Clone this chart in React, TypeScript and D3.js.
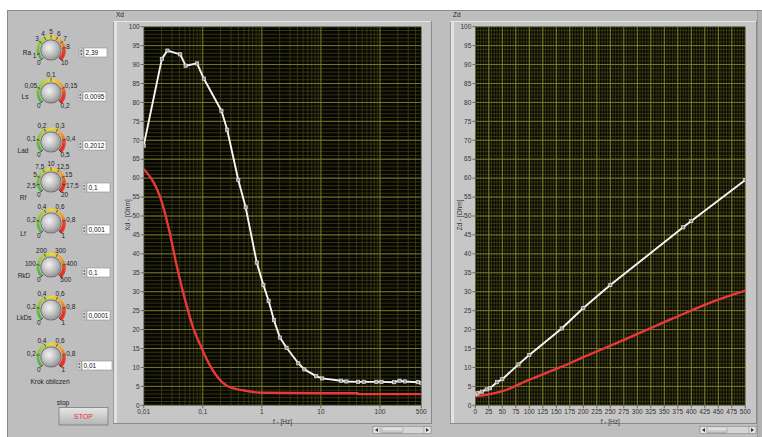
import React from 'react';
import * as d3 from 'd3';

// ---------- data ----------
const xdWhiteFreq = [0.01, 0.0203, 0.0252, 0.0415, 0.0512, 0.08, 0.104, 0.207, 0.259, 0.399, 0.532, 0.82, 1.06, 1.3, 1.6, 2.02, 2.62, 4.14, 5.24, 8.3, 10.5, 22, 26.9, 42.5, 53, 87, 106, 174, 214, 265, 437, 500];
const xdWhiteVal = [68.6, 91.5, 93.7, 92.7, 89.7, 90.3, 86.3, 77.8, 72.8, 59.5, 52.3, 37.7, 31.8, 27.6, 22.5, 17.9, 15.2, 11.1, 9.5, 7.7, 7.1, 6.5, 6.3, 6.2, 6.2, 6.2, 6.2, 6.1, 6.5, 6.3, 6.1, 5.9];
const xdRedFreq = [0.01, 0.0207, 0.0273, 0.0365, 0.054, 0.07, 0.091, 0.118, 0.175, 0.26, 0.5, 1.05, 10, 42, 42.5, 500];
const xdRedVal = [62.4, 53.2, 45.9, 36.6, 26.0, 20.1, 15.9, 12.0, 7.6, 5.1, 3.9, 3.3, 3.2, 3.2, 2.95, 2.95];

const zdWhiteFreq = [0, 4, 12, 21, 27, 40, 50, 80, 100, 160, 200, 250, 385, 400, 500];
const zdWhiteVal = [2.9, 3.2, 3.6, 4.2, 4.5, 6.1, 6.9, 10.8, 13.3, 20.3, 25.7, 31.8, 47.0, 48.7, 59.5];
const zdRedFreq = [0, 21, 52, 99, 160, 200, 256, 367, 440, 500];
const zdRedVal = [2.45, 2.8, 3.8, 6.7, 10.2, 12.7, 16.1, 23.0, 27.4, 30.3];

const yTickValues = [0, 5, 10, 15, 20, 25, 30, 35, 40, 45, 50, 55, 60, 65, 70, 75, 80, 85, 90, 95, 100];
const xdTickValues = [0.01, 0.1, 1, 10, 100, 500];
const xdTickLabels = ['0,01', '0,1', '1', '10', '100', '500'];
const zdTickValues = [0, 25, 50, 75, 100, 125, 150, 175, 200, 225, 250, 275, 300, 325, 350, 375, 400, 425, 450, 475, 500];

const knobNames = ['Ra', 'Ls', 'Lad', 'Rf', 'Lf', 'RkD', 'LkDs', 'Krok obliczeń'];
const knobMaxima = [10, 0.2, 0.5, 20, 1, 500, 1, 1];
const knobTickValues = [
  [0, 1, 3, 4, 5, 6, 7, 8, 10],
  [0, 0.05, 0.1, 0.15, 0.2],
  [0, 0.1, 0.2, 0.3, 0.4, 0.5],
  [0, 2.5, 5, 7.5, 10, 12.5, 15, 17.5, 20],
  [0, 0.2, 0.4, 0.6, 0.8, 1],
  [0, 100, 200, 300, 400, 500],
  [0, 0.2, 0.4, 0.6, 0.8, 1],
  [0, 0.2, 0.4, 0.6, 0.8, 1],
];
const knobReadouts = ['2,39', '0,0095', '0,2012', '0,1', '0,001', '0,1', '0,0001', '0,01'];

// ---------- layout ----------
const FONT = "'Liberation Sans', Arial, Helvetica, sans-serif";
const PLOT_TOP = 26.7;
const PLOT_BOTTOM = 405.3;
const BG = '#bebebe';
const PANEL = '#c6c6c6';

const knobCenters = [[51, 50], [51, 93], [51, 142], [51, 182], [51, 223], [51, 267], [51, 310], [51, 357]];
const knobNamePos = [[27, 55], [25, 99], [23, 153], [23, 200], [23, 236], [24, 278], [24, 320], [50, 384]];
const knobBoxes = [[84, 48, 23], [83, 92, 23], [83, 141, 23], [87, 183, 23], [87, 225, 23], [87, 268, 23], [87, 311, 23], [82, 361, 30]];

const arcColor = d3.scaleLinear<string>()
  .domain([0, 0.3, 0.5, 0.7, 0.85, 1])
  .range(['#3fae3f', '#9ccc34', '#f0dc28', '#f09a24', '#e83a22', '#e02020']);

function fmt(v: number) {
  return String(v).replace('.', ',');
}

function textWidth(s: string) {
  let w = 0;
  for (const ch of s) w += ch === ',' ? 1.8 : 3.6;
  return w;
}

function Knob({ i }: { i: number }) {
  const [cx, cy] = knobCenters[i];
  const max = knobMaxima[i];
  const ang = d3.scaleLinear().domain([0, max]).range([-135, 135]);
  const rArc = 13;
  const segs = d3.range(0, 60).map((k) => {
    const t0 = k / 60, t1 = (k + 1.2) / 60;
    const a0 = ((-135 + 270 * t0) * Math.PI) / 180;
    const a1 = ((-135 + 270 * Math.min(1, t1)) * Math.PI) / 180;
    const w = 2.8 + (t0 > 0.7 ? ((t0 - 0.7) / 0.3) * 1.6 : 0);
    const p = `M${cx + rArc * Math.sin(a0)},${cy - rArc * Math.cos(a0)} A${rArc},${rArc} 0 0 1 ${cx + rArc * Math.sin(a1)},${cy - rArc * Math.cos(a1)}`;
    return <path key={k} d={p} stroke={arcColor(t0)} strokeWidth={w} fill="none" />;
  });
  const [bx, by, bw] = knobBoxes[i];
  const [nx, ny] = knobNamePos[i];
  return (
    <g>
      {segs}
      {knobTickValues[i].map((v) => {
        const a = (ang(v) * Math.PI) / 180;
        const s = Math.sin(a), c = Math.cos(a);
        const lab = fmt(v);
        const w = textWidth(lab);
        const lx = cx + 15.5 * s + s * w / 2;
        const ly = cy - 15.5 * c - c * 3;
        return (
          <g key={v}>
            <line x1={cx + 11.5 * s} y1={cy - 11.5 * c} x2={cx + 14.8 * s} y2={cy - 14.8 * c} stroke="#333" strokeWidth={0.8} />
            <text x={lx} y={ly} dy="0.35em" textAnchor="middle" fontSize={6.5} fill="#222" fontFamily={FONT}>{lab}</text>
          </g>
        );
      })}
      <circle cx={cx} cy={cy} r={10.6} fill="#6a6a6a" />
      <circle cx={cx} cy={cy} r={9.8} fill="url(#knobGrad)" />
      <text x={nx} y={ny} textAnchor="middle" fontSize={6.5} fill="#222" fontFamily={FONT}>{knobNames[i]}</text>
      {/* spinner */}
      <rect x={bx - 5} y={by} width={4.5} height={9} rx={1.5} fill="#d4d4d4" stroke="#8a8a8a" strokeWidth={0.5} />
      <path d={`M${bx - 4},${by + 3.6} L${bx - 2.75},${by + 1.6} L${bx - 1.5},${by + 3.6} Z`} fill="#555" />
      <path d={`M${bx - 4},${by + 5.4} L${bx - 2.75},${by + 7.4} L${bx - 1.5},${by + 5.4} Z`} fill="#555" />
      <rect x={bx} y={by} width={bw} height={9} fill="#ffffff" stroke="#8e8e8e" strokeWidth={0.6} />
      <text x={bx + 1.5} y={by + 6.8} fontSize={6.5} fill="#111" fontFamily={FONT}>{knobReadouts[i]}</text>
    </g>
  );
}

type Series = { xs: number[]; ys: number[]; color: string; width: number; markers: boolean; smooth: boolean };

function Scrollbar({ x0, x1, thumb0, thumb1 }: { x0: number; x1: number; thumb0: number; thumb1: number }) {
  const y0 = 426.5, h = 7;
  return (
    <g>
      <rect x={x0} y={y0} width={x1 - x0} height={h} fill="#d6d6d6" stroke="#8c8c8c" strokeWidth={0.6} />
      <rect x={x0} y={y0} width={7} height={h} fill="#e4e4e4" stroke="#8c8c8c" strokeWidth={0.6} />
      <path d={`M${x0 + 2},${y0 + 3.5} L${x0 + 5},${y0 + 1.5} L${x0 + 5},${y0 + 5.5} Z`} fill="#333" />
      <rect x={x1 - 7} y={y0} width={7} height={h} fill="#e4e4e4" stroke="#8c8c8c" strokeWidth={0.6} />
      <path d={`M${x1 - 2},${y0 + 3.5} L${x1 - 5},${y0 + 1.5} L${x1 - 5},${y0 + 5.5} Z`} fill="#333" />
      <rect x={thumb0} y={y0 + 0.5} width={thumb1 - thumb0} height={h - 1} rx={1.5} fill="url(#thumbGrad)" stroke="#8c8c8c" strokeWidth={0.5} />
    </g>
  );
}

function Chart({ id, x, xMajor, xMinor, yMinor, xTickVals, xTickLabels, series, title, yTitle, panel, scroll }: any) {
  const y = d3.scaleLinear().domain([0, 100]).range([PLOT_BOTTOM, PLOT_TOP]);
  const [x0, x1] = x.range();
  const [px0, py0, px1, py1] = panel;
  return (
    <g>
      <text x={px0 + 3} y={py0 - 4} fontSize={6.5} fill="#222" fontFamily={FONT}>{title}</text>
      <rect x={px0} y={py0} width={px1 - px0} height={py1 - py0} fill={PANEL} />
      <line x1={px0 + 0.5} y1={py0} x2={px0 + 0.5} y2={py1} stroke="#9a9a9a" />
      <rect x={px0 + 1} y={py0} width={3} height={py1 - py0} fill="#e2e2e2" />
      <line x1={px0} y1={py0 + 0.5} x2={px1} y2={py0 + 0.5} stroke="#e6e6e6" />
      <line x1={px1 - 0.5} y1={py0} x2={px1 - 0.5} y2={py1} stroke="#8a8a8a" />
      <line x1={px0} y1={py1 - 0.5} x2={px1} y2={py1 - 0.5} stroke="#8a8a8a" />
      <clipPath id={`clip-${id}`}>
        <rect x={x0} y={PLOT_TOP} width={x1 - x0} height={PLOT_BOTTOM - PLOT_TOP} />
      </clipPath>
      <rect x={x0} y={PLOT_TOP} width={x1 - x0} height={PLOT_BOTTOM - PLOT_TOP} fill="#060602" />
      <g clipPath={`url(#clip-${id})`}>
        {yMinor.map((v: number) => (
          <line key={'hy' + v} x1={x0} x2={x1} y1={y(v)} y2={y(v)} stroke="#404018" strokeWidth={0.8} />
        ))}
        {xMinor.map((v: number) => (
          <line key={'hx' + v} y1={PLOT_TOP} y2={PLOT_BOTTOM} x1={x(v)} x2={x(v)} stroke="#404018" strokeWidth={0.8} />
        ))}
        {yTickValues.map((v) => (
          <line key={'my' + v} x1={x0} x2={x1} y1={y(v)} y2={y(v)} stroke="#7e7e2c" strokeWidth={0.9} />
        ))}
        {xMajor.map((v: number) => (
          <line key={'mx' + v} y1={PLOT_TOP} y2={PLOT_BOTTOM} x1={x(v)} x2={x(v)} stroke="#8a8a30" strokeWidth={0.9} />
        ))}
        {series.map((s: Series, k: number) => {
          const gen = d3.line<number>()
            .x((_, i) => x(s.xs[i]))
            .y((d) => y(d))
            .curve(s.smooth ? d3.curveMonotoneX : d3.curveLinear);
          return (
            <g key={k}>
              <path d={gen(s.ys) || ''} fill="none" stroke={s.color} strokeWidth={s.width} strokeLinejoin="round" />
              {s.markers && s.ys.map((v, i) => (
                <rect key={i} x={x(s.xs[i]) - 1.6} y={y(v) - 1.6} width={3.2} height={3.2} fill="#9a9a9a" stroke="#e8e8e8" strokeWidth={0.7} />
              ))}
            </g>
          );
        })}
      </g>
      {/* y axis */}
      {yTickValues.map((v) => (
        <g key={'yt' + v}>
          <line x1={x0 - 3} x2={x0} y1={y(v)} y2={y(v)} stroke="#444" strokeWidth={0.7} />
          <text x={x0 - 4} y={y(v)} dy="0.35em" textAnchor="end" fontSize={6.5} fill="#333" fontFamily={FONT}>{v}</text>
        </g>
      ))}
      {xTickVals.map((v: number, i: number) => (
        <g key={'xt' + v}>
          <line x1={x(v)} x2={x(v)} y1={PLOT_BOTTOM} y2={PLOT_BOTTOM + 3} stroke="#444" strokeWidth={0.7} />
          <text x={x(v)} y={PLOT_BOTTOM + 8.5} textAnchor="middle" fontSize={6.5} fill="#333" fontFamily={FONT}>{xTickLabels[i]}</text>
        </g>
      ))}
      <text x={(x0 + x1) / 2} y={PLOT_BOTTOM + 18.5} textAnchor="middle" fontSize={6.5} fill="#333" fontFamily={FONT}>f - [Hz]</text>
      <text transform={`translate(${x0 - 16},${215}) rotate(-90)`} textAnchor="middle" dy="0.35em" fontSize={6.5} fill="#333" fontFamily={FONT}>{yTitle}</text>
      <Scrollbar x0={scroll[0]} x1={scroll[1]} thumb0={scroll[2]} thumb1={scroll[3]} />
    </g>
  );
}

export default function App() {
  const xLog = d3.scaleLog().domain([0.01, 500]).range([143.7, 421.3]);
  const xLin = d3.scaleLinear().domain([0, 500]).range([475.3, 745.3]);

  const decades = [0.01, 0.1, 1, 10, 100];
  const logMinor: number[] = [];
  decades.forEach((d) => d3.range(2, 10).forEach((k) => { const v = d * k; if (v <= 500) logMinor.push(v); }));
  const yMinor = d3.range(0, 101, 1);
  const linMinor = d3.range(0, 501, 5);

  const leftSeries: Series[] = [
    { xs: xdRedFreq, ys: xdRedVal, color: '#e8383a', width: 2.4, markers: false, smooth: true },
    { xs: xdWhiteFreq, ys: xdWhiteVal, color: '#f6f6f6', width: 1.9, markers: true, smooth: false },
  ];
  const rightSeries: Series[] = [
    { xs: zdRedFreq, ys: zdRedVal, color: '#e8383a', width: 2.4, markers: false, smooth: true },
    { xs: zdWhiteFreq, ys: zdWhiteVal, color: '#f6f6f6', width: 1.9, markers: true, smooth: false },
  ];

  return (
    <svg width={762} height={437} style={{ position: 'absolute', left: 0, top: 0, display: 'block' }}>
      <defs>
        <radialGradient id="knobGrad" cx="40%" cy="38%" r="70%">
          <stop offset="0%" stopColor="#f2f2f2" />
          <stop offset="45%" stopColor="#c9c9c9" />
          <stop offset="100%" stopColor="#8a8a8a" />
        </radialGradient>
        <linearGradient id="thumbGrad" x1="0" y1="0" x2="0" y2="1">
          <stop offset="0%" stopColor="#f0f0f0" />
          <stop offset="100%" stopColor="#bcbcbc" />
        </linearGradient>
        <linearGradient id="btnGrad" x1="0" y1="0" x2="0" y2="1">
          <stop offset="0%" stopColor="#e6e6e6" />
          <stop offset="100%" stopColor="#b4b4b4" />
        </linearGradient>
      </defs>
      <rect x={0} y={0} width={762} height={437} fill="#ffffff" />
      <rect x={7} y={10} width={755} height={427} fill={BG} />
      <line x1={7.5} y1={10} x2={7.5} y2={437} stroke="#8a8a8a" />
      <line x1={7} y1={10.5} x2={762} y2={10.5} stroke="#8a8a8a" />
      <rect x={757} y={11} width={5} height={426} fill="#b2b2b2" />
      <line x1={757.5} y1={11} x2={757.5} y2={437} stroke="#9a9a9a" />

      {knobNames.map((_, i) => <Knob key={i} i={i} />)}

      <text x={63} y={405} textAnchor="middle" fontSize={6.5} fill="#222" fontFamily={FONT}>stop</text>
      <rect x={59} y={407.5} width={49} height={17.5} fill="url(#btnGrad)" stroke="#7c7c7c" strokeWidth={0.8} />
      <text x={83.5} y={418.5} textAnchor="middle" fontSize={7} fill="#e03434" fontFamily={FONT}>STOP</text>

      <Chart id="xd" x={xLog} xMajor={decades} xMinor={logMinor} yMinor={yMinor}
        xTickVals={xdTickValues} xTickLabels={xdTickLabels} series={leftSeries}
        title="Xd" yTitle="Xd - [Ohm]" panel={[113, 21, 432, 424]} scroll={[373, 431, 382, 403]} />
      <Chart id="zd" x={xLin} xMajor={zdTickValues} xMinor={linMinor} yMinor={yMinor}
        xTickVals={zdTickValues} xTickLabels={zdTickValues.map(String)} series={rightSeries}
        title="Zd" yTitle="Zd - [Ohm]" panel={[450, 21, 757, 424]} scroll={[700, 756, 707, 727]} />
    </svg>
  );
}
